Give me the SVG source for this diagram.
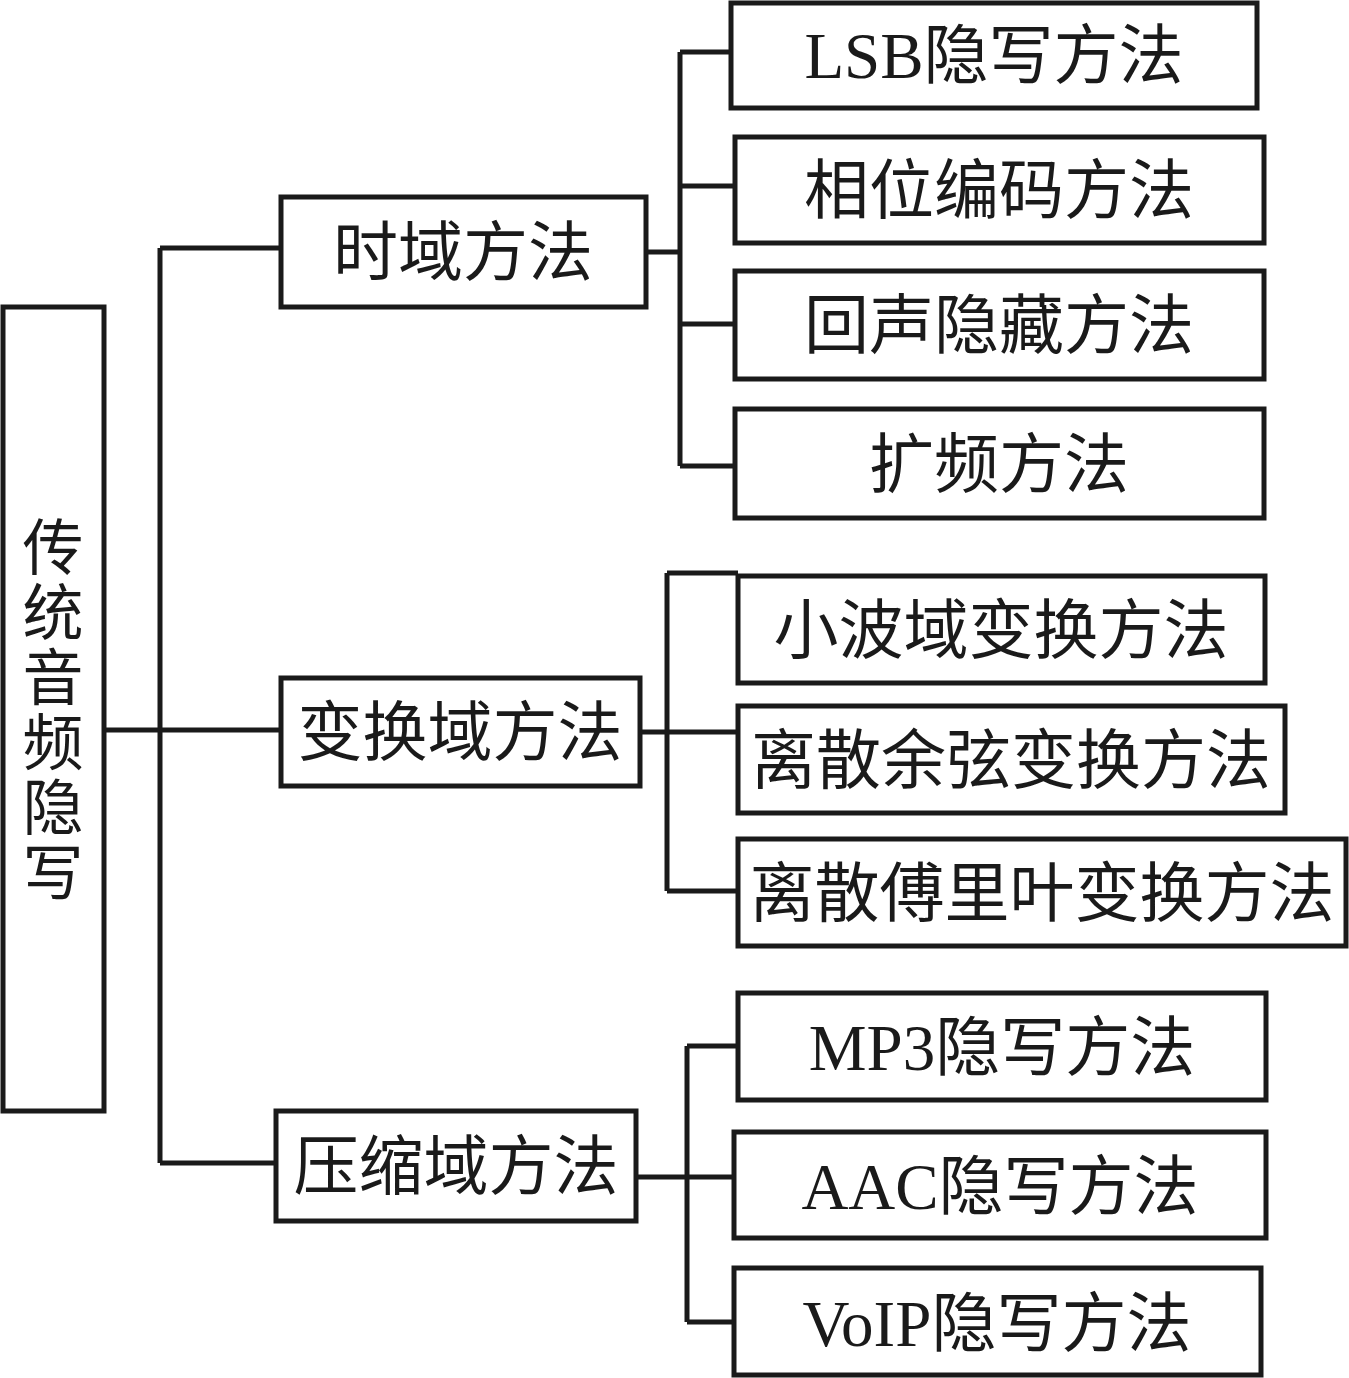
<svg xmlns="http://www.w3.org/2000/svg" width="1349" height="1378" viewBox="0 0 1349 1378">
<style>
.box{fill:#fff;stroke:#1a1a1a;stroke-width:5}
.ln{fill:none;stroke:#1a1a1a;stroke-width:5}
text{font-family:"Liberation Serif","Noto Sans CJK SC",serif;font-size:65px;fill:#1a1a1a;text-anchor:middle}
.v{font-size:61px}
</style>
<rect width="1349" height="1378" fill="#fff"/>
<g id="connectors">
<path class="ln" d="M104 730H281M160 248V1163M160 248H281M160 1163H276"/>
<path class="ln" d="M646 252H680M680 52V466M680 52H731M680 186H735M680 324H735M680 466H735"/>
<path class="ln" d="M640 732H738M667 573V891M667 573H738M667 891H738"/>
<path class="ln" d="M636 1177H734M687 1046V1322M687 1046H738M687 1322H734"/>
</g>
<g id="root"><rect class="box" x="3" y="307" width="101" height="804"/>
<text class="v" x="53"><tspan x="53" y="570">传</tspan><tspan x="53" y="635">统</tspan><tspan x="53" y="700">音</tspan><tspan x="53" y="765">频</tspan><tspan x="53" y="830">隐</tspan><tspan x="53" y="895">写</tspan></text></g>
<g id="time"><rect class="box" x="281" y="197" width="365" height="110"/><text x="463" y="275">时域方法</text></g>
<g id="transform"><rect class="box" x="281" y="678" width="359" height="108"/><text x="460" y="755">变换域方法</text></g>
<g id="compress"><rect class="box" x="276" y="1111" width="360" height="110"/><text x="456" y="1189">压缩域方法</text></g>
<g id="lsb"><rect class="box" x="731" y="3" width="526" height="105"/><text x="994" y="78">LSB隐写方法</text></g>
<g id="phase"><rect class="box" x="735" y="137" width="529" height="106"/><text x="999" y="213">相位编码方法</text></g>
<g id="echo"><rect class="box" x="735" y="271" width="529" height="108"/><text x="999" y="348">回声隐藏方法</text></g>
<g id="spread"><rect class="box" x="735" y="409" width="529" height="109"/><text x="999" y="487">扩频方法</text></g>
<g id="wavelet"><rect class="box" x="738" y="576" width="527" height="107"/><text x="1001" y="653">小波域变换方法</text></g>
<g id="dct"><rect class="box" x="738" y="706" width="547" height="107"/><text x="1011" y="783">离散余弦变换方法</text></g>
<g id="dft"><rect class="box" x="738" y="839" width="608" height="107"/><text x="1042" y="916">离散傅里叶变换方法</text></g>
<g id="mp3"><rect class="box" x="738" y="993" width="528" height="107"/><text x="1002" y="1070">MP3隐写方法</text></g>
<g id="aac"><rect class="box" x="734" y="1132" width="532" height="106"/><text x="1000" y="1209">AAC隐写方法</text></g>
<g id="voip"><rect class="box" x="734" y="1268" width="527" height="107"/><text x="997" y="1346">VoIP隐写方法</text></g>
</svg>
